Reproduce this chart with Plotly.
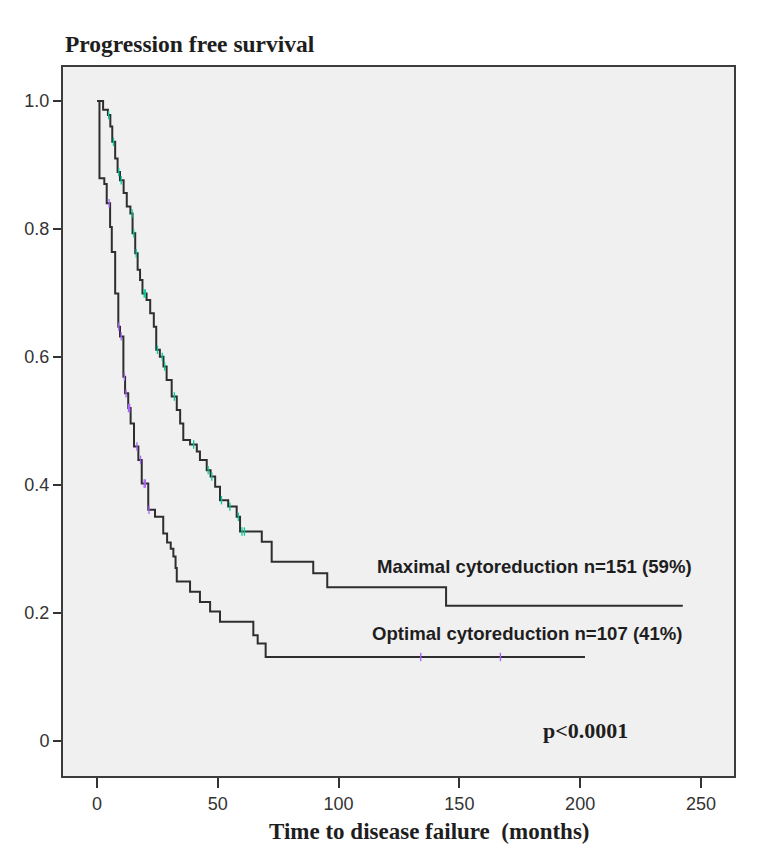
import numpy as np
import plotly.graph_objects as go

# ---- Data ----
max_times = [0, 2.5, 4.5, 5.5, 6.3, 7.5, 8.5, 9.5, 11.0, 12.3, 13.8, 14.7, 15.8, 16.8, 17.8,
             18.8, 20.5, 22.0, 23.5, 24.5, 26.0, 27.5, 28.8, 30.9, 33.0, 34.4, 35.7, 38.5,
             41.3, 42.6, 45.4, 47.0, 48.9, 50.9, 54.3, 57.8, 59.2, 68.2, 72.3, 89.5, 95.3,
             144.5, 242.5]
max_surv = [1.0, 0.986, 0.978, 0.960, 0.936, 0.910, 0.889, 0.876, 0.856, 0.835, 0.824, 0.793,
            0.762, 0.736, 0.720, 0.699, 0.689, 0.668, 0.647, 0.611, 0.600, 0.585, 0.564, 0.538,
            0.517, 0.496, 0.470, 0.463, 0.452, 0.439, 0.423, 0.413, 0.397, 0.376, 0.366, 0.350,
            0.327, 0.311, 0.280, 0.262, 0.240, 0.211, 0.211]

opt_times = [0, 1.0, 3.0, 4.0, 5.4, 6.1, 7.5, 8.8, 9.5, 10.9, 11.6, 12.9, 13.9, 15.3, 17.1,
             18.5, 21.2, 24.0, 27.4, 29.0, 30.5, 31.6, 32.5, 33.0, 38.5, 42.6, 46.8, 50.9,
             64.7, 66.5, 69.8, 202.0]
opt_surv = [1.0, 0.879, 0.870, 0.840, 0.803, 0.764, 0.699, 0.647, 0.632, 0.569, 0.543, 0.520,
            0.496, 0.460, 0.439, 0.402, 0.361, 0.350, 0.324, 0.310, 0.300, 0.288, 0.270, 0.249,
            0.233, 0.217, 0.202, 0.186, 0.165, 0.152, 0.131, 0.131]

max_censor = [4.8, 6.8, 9.0, 10.0, 14.5, 15.2, 16.2, 19.5, 20.0, 25.0, 27.0, 28.0, 32.0,
              40.0, 46.0, 47.5, 51.5, 55.0, 58.5, 60.0, 61.0]
opt_censor = [5.0, 9.0, 10.0, 11.3, 12.0, 13.0, 13.5, 16.5, 18.0, 19.5, 20.0, 21.5, 134.0, 167.0]

x_ticks = [0, 50, 100, 150, 200, 250]
y_ticks = [0, 0.2, 0.4, 0.6, 0.8, 1.0]
y_ticktext = ["0", "0.2", "0.4", "0.6", "0.8", "1.0"]

title_text = "Progression free survival"
xlabel_text = "Time to disease failure&nbsp;&nbsp;(months)"
max_label = "Maximal cytoreduction n=151 (59%)"
opt_label = "Optimal cytoreduction n=107 (41%)"
p_text = "p<0.0001"


def surv_at(times, surv, t):
    idx = np.searchsorted(np.array(times), np.array(t), side="right") - 1
    return list(np.array(surv)[idx])


LINE = "#2e2e2e"
fig = go.Figure()

fig.add_trace(go.Scatter(x=max_times, y=max_surv, mode="lines", line_shape="hv",
                         line=dict(color=LINE, width=2), showlegend=False))
fig.add_trace(go.Scatter(x=opt_times, y=opt_surv, mode="lines", line_shape="hv",
                         line=dict(color=LINE, width=2), showlegend=False))
fig.add_trace(go.Scatter(x=max_censor, y=surv_at(max_times, max_surv, max_censor), mode="markers",
                         marker=dict(symbol="line-ns-open", size=6, line=dict(color="#52a85a", width=1.3)),
                         showlegend=False))
fig.add_trace(go.Scatter(x=opt_censor, y=surv_at(opt_times, opt_surv, opt_censor), mode="markers",
                         marker=dict(symbol="line-ns-open", size=6, line=dict(color="#6a6ab0", width=1.3)),
                         showlegend=False))

tickfont = dict(family="Liberation Sans, Arial, sans-serif", size=18, color="#333333")

fig.update_xaxes(range=[-14.1, 263.7], tickvals=x_ticks, ticks="outside", ticklen=10,
                 tickwidth=2, tickcolor="#333333", showline=True, mirror=True, linewidth=2,
                 linecolor="#3c3c3c", showgrid=False, zeroline=False, tickfont=tickfont)
fig.update_yaxes(range=[-0.055, 1.053], tickvals=y_ticks, ticktext=y_ticktext, ticks="outside",
                 ticklen=8, tickwidth=2, tickcolor="#333333", showline=True, mirror=True,
                 linewidth=2, linecolor="#3c3c3c", showgrid=False, zeroline=False, tickfont=tickfont)

serif_bold = "Liberation Serif, Times New Roman, serif"
ann_font = dict(family="Liberation Sans, Arial, sans-serif", size=18.6, color="#1e1e1e")

fig.update_layout(
    width=759, height=868,
    margin=dict(l=63, r=25, t=67, b=92),
    paper_bgcolor="white", plot_bgcolor="#f0f0f0",
    annotations=[
        dict(text="<b>" + title_text + "</b>", xref="paper", yref="paper", x=0.0, y=1.0324,
             xanchor="left", yanchor="middle", showarrow=False,
             font=dict(family=serif_bold, size=23.5, color="#1e1e1e")),
        dict(text="<b>" + xlabel_text + "</b>", xref="paper", yref="paper", x=0.5455, y=-0.0776,
             xanchor="center", yanchor="middle", showarrow=False,
             font=dict(family=serif_bold, size=23, color="#1e1e1e")),
        dict(text="<b>" + max_label + "</b>", xref="x", yref="y", x=181.3, y=0.272,
             xanchor="center", yanchor="middle", showarrow=False, font=ann_font),
        dict(text="<b>" + opt_label + "</b>", xref="x", yref="y", x=178.2, y=0.167,
             xanchor="center", yanchor="middle", showarrow=False, font=ann_font),
        dict(text="<b>" + p_text + "</b>", xref="x", yref="y", x=202.2, y=0.016,
             xanchor="center", yanchor="middle", showarrow=False,
             font=dict(family=serif_bold, size=22, color="#1e1e1e")),
    ],
)

fig.write_html("out.html")
